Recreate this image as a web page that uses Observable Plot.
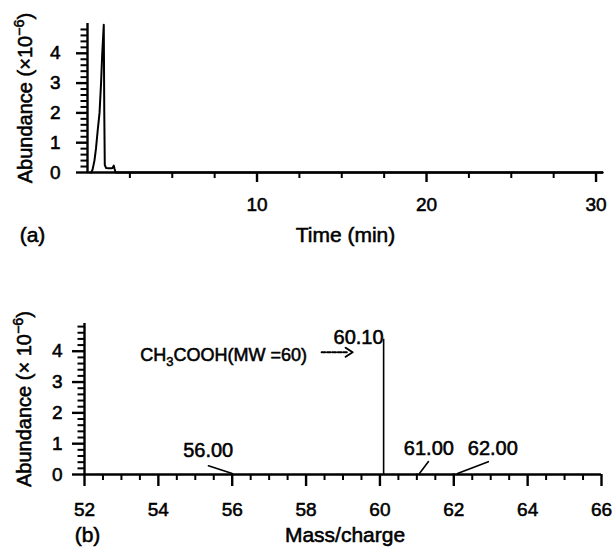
<!DOCTYPE html>
<html>
<head>
<meta charset="utf-8">
<script src="https://cdn.jsdelivr.net/npm/d3@7"></script>
<script src="https://cdn.jsdelivr.net/npm/@observablehq/plot@0.6"></script>
<style>
  html, body { margin: 0; padding: 0; background: #fff; }
  #wrap { position: relative; width: 613px; height: 547px; overflow: hidden; }
  #a, #b { position: absolute; left: 0; }
  #a { top: 0; }
  #b { top: 250px; }
  svg { display: block; }
  svg text { stroke: #000; stroke-width: 0.55px; }
</style>
</head>
<body>
<div id="wrap"><div id="a"></div><div id="b"></div></div>
<script>
// ---------- Panel (a): total ion chromatogram ----------
const timeMin   = [0.22, 0.30, 0.41, 0.50, 0.60, 0.71, 0.80, 0.87, 0.96, 0.99, 1.02, 1.10, 1.25, 1.40, 1.47, 1.55, 1.60, 1.66, 2.0, 5, 10, 15, 20, 25, 30.4];
const abundA    = [0.00, 0.10, 0.40, 0.80, 1.40, 2.00, 3.00, 4.00, 4.96, 2.00, 0.25, 0.15, 0.14, 0.14, 0.15, 0.23, 0.12, 0.00, 0.0, 0, 0, 0, 0, 0, 0];
const timeTicksMajor = [10, 20, 30];
const timeTicksMinor = [2.5, 5, 7.5, 12.5, 15, 17.5, 22.5, 25, 27.5];

// ---------- Panel (b): mass spectrum ----------
const peakMz    = [56.00, 60.10, 61.00, 62.00];
const peakAbund = [0.02, 4.39, 0.02, 0.02];
const mzTicksMajor = [52, 54, 56, 58, 60, 62, 64, 66];
const mzTicksMinor = [52.5, 53, 53.5, 54.5, 55, 55.5, 56.5, 57, 57.5, 58.5, 59, 59.5, 60.5, 61, 61.5, 62.5, 63, 63.5, 64.5, 65, 65.5];

// shared y ticks
const abundTicksMajor = [0, 1, 2, 3, 4];
const abundTicksMinor = [0.2, 0.4, 0.6, 0.8, 1.2, 1.4, 1.6, 1.8, 2.2, 2.4, 2.6, 2.8, 3.2, 3.4, 3.6, 3.8, 4.2, 4.4, 4.6, 4.8];

const font = "'Liberation Sans', Arial, Helvetica, sans-serif";
const chrom = timeMin.map((t, i) => ({t, a: abundA[i]}));
const peaks = peakMz.map((mz, i) => ({mz, ab: peakAbund[i]}));
const fmt = d => String(d);

// straight line shape for Plot.vector (leader lines)
const lineShape = {draw(ctx, l) { ctx.moveTo(0, 0); ctx.lineTo(0, -l); }};
// dashed arrow "----->" shape for Plot.vector
const dashArrow = {draw(ctx, l) {
  const dash = 3.6, gap = 1.8, body = l - 4;
  for (let s = 0; s < body; s += dash + gap) {
    ctx.moveTo(0, -s); ctx.lineTo(0, -Math.min(s + dash, body));
  }
  ctx.moveTo(-4.5, -l + 7); ctx.lineTo(0, -l); ctx.lineTo(4.5, -l + 7);
}};

// y-axis ticks as short horizontal rules left of the y-axis
// (tick length in pixels, converted with the panel's px-per-unit)
function yTicks(x0, pxPerUnit, major, minor, majorLen) {
  return [
    Plot.ruleY(major, {y: d => d, x1: () => x0 - majorLen / pxPerUnit, x2: () => x0, strokeWidth: 2.4}),
    Plot.ruleY(minor, {y: d => d, x1: () => x0 - 6.5 / pxPerUnit, x2: () => x0, strokeWidth: 2})
  ];
}

const W = 613;
const xDomA = [0, 30.44], yDomA = [0, 5];
const xDomB = [52, 66],   yDomB = [0, 4.9];
const mA = {top: 23, bottom: 78, left: 87, right: 10};
const mB = {top: 73, bottom: 73, left: 84, right: 12};
const pxA = (W - mA.left - mA.right) / (xDomA[1] - xDomA[0]);
const pxB = (W - mB.left - mB.right) / (xDomB[1] - xDomB[0]);
const center = {textAnchor: "middle", lineAnchor: "middle"};

const plotA = Plot.plot({
  width: W, height: 250,
  marginTop: mA.top, marginBottom: mA.bottom, marginLeft: mA.left, marginRight: mA.right,
  style: {fontFamily: font, fontSize: "19px", color: "#000", background: "#fff", overflow: "visible"},
  x: {domain: xDomA, label: null},
  y: {domain: yDomA, label: null},
  marks: [
    Plot.ruleY([0], {x1: xDomA[0], x2: xDomA[1], strokeWidth: 2.4}),
    Plot.ruleX([xDomA[0]], {y1: yDomA[0], y2: yDomA[1], strokeWidth: 2.4}),
    ...yTicks(xDomA[0], pxA, abundTicksMajor, abundTicksMinor, 11),
    Plot.axisY({ticks: abundTicksMajor, tickFormat: fmt, tickSize: 0, tickPadding: 27, fontSize: 19, label: null}),
    Plot.axisX({ticks: timeTicksMajor, tickFormat: fmt, tickSize: 10, tickPadding: 15, strokeWidth: 2.4, fontSize: 19, label: null}),
    Plot.axisX({ticks: timeTicksMinor, tickFormat: () => "", tickSize: 6, strokeWidth: 2, label: null}),
    Plot.line(chrom, {x: "t", y: "a", strokeWidth: 2}),
    Plot.text(["Time (min)"], {frameAnchor: "bottom", dy: 63, fontSize: 21, ...center}),
    Plot.text(["(a)"], {frameAnchor: "bottom-left", dx: -55, dy: 63, fontSize: 21, ...center}),
    Plot.text(["Abundance (×10^{−6})"], {frameAnchor: "left", rotate: -90, dx: -62, fontSize: 20, ...center})
  ]
});

const notes = [
  {mz: 56.00, tdx: -24, tdy: -24, vdx: 0,   len: 25, rot: -72},
  {mz: 61.00, tdx: 12,  tdy: -26, vdx: 2.6, len: 15, rot: 37},
  {mz: 62.00, tdx: 39,  tdy: -26, vdx: 3.7, len: 33, rot: 69}
];
const mainPeak = peaks.filter(d => d.mz === 60.10);

const plotB = Plot.plot({
  width: W, height: 297,
  marginTop: mB.top, marginBottom: mB.bottom, marginLeft: mB.left, marginRight: mB.right,
  style: {fontFamily: font, fontSize: "19px", color: "#000", background: "#fff", overflow: "visible"},
  x: {domain: xDomB, label: null},
  y: {domain: yDomB, label: null},
  marks: [
    Plot.ruleY([0], {x1: xDomB[0], x2: xDomB[1], strokeWidth: 2.4}),
    Plot.ruleX([xDomB[0]], {y1: yDomB[0], y2: yDomB[1], strokeWidth: 2.4}),
    ...yTicks(xDomB[0], pxB, abundTicksMajor, abundTicksMinor, 12),
    Plot.axisY({ticks: abundTicksMajor, tickFormat: fmt, tickSize: 0, tickPadding: 22, fontSize: 19, label: null}),
    Plot.axisX({ticks: mzTicksMajor, tickFormat: fmt, tickSize: 12, tickPadding: 16, strokeWidth: 2.4, fontSize: 19, label: null}),
    Plot.axisX({ticks: mzTicksMinor, tickFormat: () => "", tickSize: 6, strokeWidth: 2, label: null}),
    Plot.ruleX(peaks, {x: "mz", y1: 0, y2: "ab", strokeWidth: 1.6}),
    Plot.text(mainPeak, {x: "mz", y: "ab", text: d => d.mz.toFixed(2), textAnchor: "end", lineAnchor: "middle", dx: 0, dy: -2, fontSize: 20}),
    Plot.text(mainPeak, {x: "mz", y: "ab", text: () => "CH_{3}COOH(MW =60)", dx: -160, dy: 16, fontSize: 18, ...center}),
    Plot.vector(mainPeak, {x: "mz", y: "ab", anchor: "start", length: 31, rotate: 90, shape: dashArrow, dx: -62, dy: 13, strokeWidth: 2}),
    ...notes.flatMap(n => {
      const p = peaks.filter(d => d.mz === n.mz);
      return [
        Plot.text(p, {x: "mz", y: 0, text: d => d.mz.toFixed(2), dx: n.tdx, dy: n.tdy, fontSize: 20, ...center}),
        Plot.vector(p, {x: "mz", y: 0, anchor: "start", length: n.len, rotate: n.rot, shape: lineShape, dx: n.vdx, dy: -1, strokeWidth: 1.6})
      ];
    }),
    Plot.text(["Mass/charge"], {frameAnchor: "bottom", dy: 61, dx: 2, fontSize: 21, ...center}),
    Plot.text(["(b)"], {frameAnchor: "bottom-left", dx: 3, dy: 61, fontSize: 21, ...center}),
    Plot.text(["Abundance (× 10^{−6})"], {frameAnchor: "left", rotate: -90, dx: -60, fontSize: 20, ...center})
  ]
});

document.getElementById("a").appendChild(plotA);
document.getElementById("b").appendChild(plotB);

// rich text: ^{...} superscript, _{...} subscript
function rich(svg) {
  const ns = "http://www.w3.org/2000/svg";
  svg.querySelectorAll("text").forEach(t => {
    const s = t.textContent;
    if (!/[\^_]\{/.test(s)) return;
    const fs = parseFloat(getComputedStyle(t).fontSize) || 19;
    const parts = s.split(/([\^_]\{[^}]*\})/);
    while (t.firstChild) t.removeChild(t.firstChild);
    let shift = 0;
    for (const p of parts) {
      if (!p) continue;
      const ts = document.createElementNS(ns, "tspan");
      if (p[0] === "^" || p[0] === "_") {
        const off = p[0] === "^" ? -0.42 * fs : 0.28 * fs;
        ts.setAttribute("dy", off - shift);
        shift = off;
        ts.setAttribute("font-size", (0.72 * fs).toFixed(1));
        ts.textContent = p.slice(2, -1);
      } else {
        ts.setAttribute("dy", -shift);
        shift = 0;
        ts.textContent = p;
      }
      t.appendChild(ts);
    }
  });
}
rich(plotA);
rich(plotB);
</script>
</body>
</html>
